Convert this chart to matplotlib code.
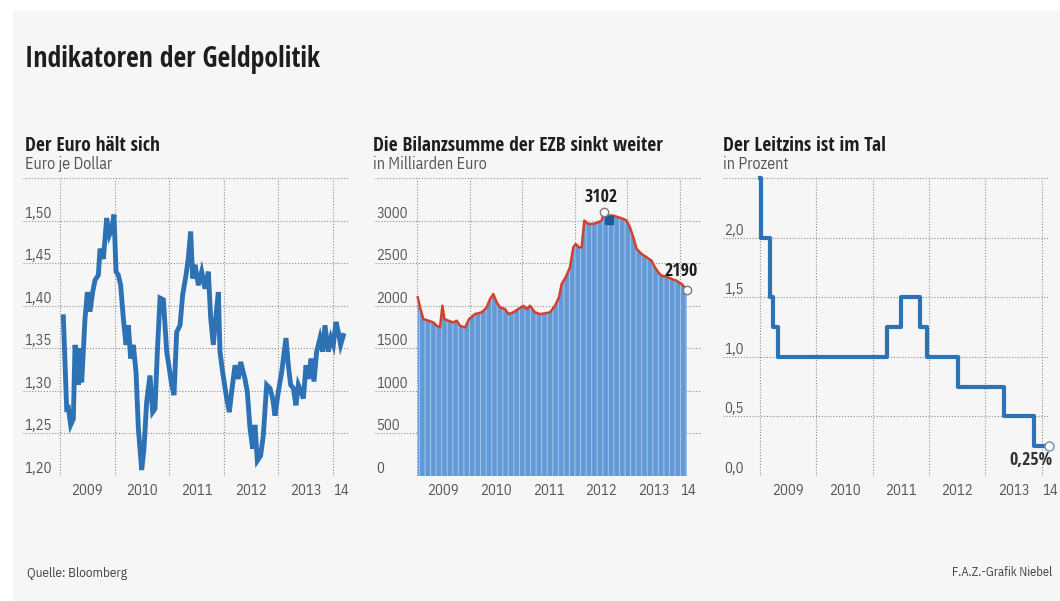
import numpy as np
import matplotlib
matplotlib.use("Agg")
import matplotlib.pyplot as plt
from matplotlib.patches import Rectangle
from matplotlib.transforms import offset_copy

plt.rcParams["font.family"] = ["IBM Plex Sans Condensed", "DejaVu Sans"]
plt.rcParams["hatch.linewidth"] = 0.8
TITLE_FONT = ["Open Sans Condensed", "IBM Plex Sans Condensed", "DejaVu Sans"]

COLORS = {
    "line": "#2e72b6",
    "fill": "#6399d6",
    "stripe": "#9fc1ea",
    "red": "#d4402c",
    "dark_blue": "#1d5a9c",
    "text": "#1e1e1e",
    "sub": "#555555",
    "grid": "#8f8f8f",
    "panel": "#f6f6f6",
}

W, H = 1060, 601

# Euro je Dollar (wöchentlich)
euro_dates = [
    2009.061, 2009.122, 2009.153, 2009.195, 2009.244, 2009.275, 2009.336, 2009.366,
    2009.397, 2009.458, 2009.501, 2009.549, 2009.598, 2009.641, 2009.702, 2009.733,
    2009.794, 2009.855, 2009.904, 2009.946, 2009.989, 2010.026, 2010.068, 2010.111,
    2010.160, 2010.209, 2010.252, 2010.294, 2010.343, 2010.392, 2010.435, 2010.496,
    2010.538, 2010.587, 2010.648, 2010.697, 2010.740, 2010.783, 2010.832, 2010.893,
    2010.954, 2011.002, 2011.045, 2011.088, 2011.137, 2011.198, 2011.247, 2011.308,
    2011.350, 2011.393, 2011.430, 2011.473, 2011.534, 2011.595, 2011.656, 2011.717,
    2011.760, 2011.808, 2011.857, 2011.900, 2011.930, 2011.979, 2012.053, 2012.101,
    2012.144, 2012.205, 2012.266, 2012.309, 2012.388, 2012.431, 2012.480, 2012.529,
    2012.571, 2012.614, 2012.675, 2012.724, 2012.785, 2012.846, 2012.895, 2012.938,
    2012.999, 2013.060, 2013.139, 2013.182, 2013.225, 2013.274, 2013.322, 2013.365,
    2013.414, 2013.457, 2013.506, 2013.548, 2013.597, 2013.652, 2013.701, 2013.762,
    2013.811, 2013.853, 2013.914, 2013.963, 2014.006, 2014.055, 2014.098, 2014.140,
    2014.189,
]
euro_values = [
    1.387, 1.279, 1.280, 1.260, 1.267, 1.354, 1.307, 1.350,
    1.310, 1.385, 1.416, 1.393, 1.416, 1.430, 1.436, 1.467,
    1.455, 1.503, 1.483, 1.490, 1.507, 1.440, 1.436, 1.424,
    1.385, 1.354, 1.377, 1.338, 1.354, 1.322, 1.256, 1.207,
    1.232, 1.287, 1.318, 1.275, 1.279, 1.346, 1.409, 1.407,
    1.346, 1.326, 1.307, 1.295, 1.369, 1.377, 1.413, 1.436,
    1.456, 1.487, 1.432, 1.448, 1.424, 1.440, 1.420, 1.440,
    1.385, 1.354, 1.389, 1.416, 1.346, 1.322, 1.291, 1.275,
    1.299, 1.330, 1.314, 1.334, 1.314, 1.299, 1.256, 1.232,
    1.260, 1.218, 1.224, 1.248, 1.307, 1.303, 1.291, 1.271,
    1.299, 1.322, 1.362, 1.330, 1.307, 1.303, 1.283, 1.307,
    1.299, 1.291, 1.330, 1.314, 1.338, 1.311, 1.346, 1.362,
    1.346, 1.377, 1.346, 1.362, 1.354, 1.381, 1.369, 1.354,
    1.365,
]

# Bilanzsumme der EZB in Mrd. Euro
bilanz_dates = [
    2009.013, 2009.057, 2009.120, 2009.215, 2009.311, 2009.374, 2009.437, 2009.482,
    2009.520, 2009.596, 2009.691, 2009.754, 2009.817, 2009.913, 2009.989, 2010.103,
    2010.229, 2010.324, 2010.388, 2010.451, 2010.515, 2010.578, 2010.673, 2010.736,
    2010.831, 2010.926, 2011.022, 2011.085, 2011.148, 2011.243, 2011.338, 2011.433,
    2011.529, 2011.624, 2011.700, 2011.750, 2011.826, 2011.909, 2011.972, 2012.016,
    2012.080, 2012.131, 2012.181, 2012.257, 2012.352, 2012.447, 2012.511, 2012.555,
    2012.637, 2012.732, 2012.828, 2012.923, 2012.986, 2013.049, 2013.113, 2013.176,
    2013.271, 2013.366, 2013.461, 2013.525, 2013.588, 2013.651, 2013.746, 2013.842,
    2013.937, 2014.032, 2014.127,
]
bilanz_values = [
    2098, 1980, 1843, 1824, 1804, 1765, 1745, 2000,
    1843, 1824, 1804, 1824, 1765, 1745, 1843, 1902,
    1922, 1980, 2078, 2137, 2039, 1980, 1961, 1902,
    1922, 1961, 2000, 1961, 2000, 1922, 1902, 1910,
    1922, 2000, 2098, 2255, 2333, 2451, 2686, 2725,
    2686, 2686, 3000, 2961, 2961, 2980, 3000, 3102,
    3059, 3059, 3039, 3020, 3000, 2922, 2804, 2667,
    2608, 2569, 2529, 2451, 2392, 2353, 2341, 2314,
    2294, 2255, 2190,
]

# Leitzins in Prozent (Stufen)
zins_dates = [2009.0, 2009.02, 2009.18, 2009.24, 2009.32, 2011.25, 2011.51,
              2011.85, 2011.96, 2012.51, 2013.34, 2013.87, 2014.14]
zins_values = [2.5, 2.0, 1.5, 1.25, 1.0, 1.25, 1.5, 1.25, 1.0, 0.75, 0.5, 0.25, 0.25]

year_grid = [2009, 2010, 2011, 2012, 2013, 2014]
year_label_pos = [2009.5, 2010.5, 2011.5, 2012.5, 2013.5, 2014.15]
year_labels = ["2009", "2010", "2011", "2012", "2013", "14"]

euro_ticks = [1.20, 1.25, 1.30, 1.35, 1.40, 1.45, 1.50, 1.55]
euro_tick_labels = ["1,20", "1,25", "1,30", "1,35", "1,40", "1,45", "1,50", ""]
bilanz_ticks = [0, 500, 1000, 1500, 2000, 2500, 3000, 3500]
bilanz_tick_labels = ["0", "500", "1000", "1500", "2000", "2500", "3000", ""]
zins_ticks = [0.0, 0.5, 1.0, 1.5, 2.0, 2.5]
zins_tick_labels = ["0,0", "0,5", "1,0", "1,5", "2,0", ""]


def make_axes(fig, left_px, right_px, top_px=178, bottom_px=476):
    return fig.add_axes([left_px / W, 1 - bottom_px / H,
                         (right_px - left_px) / W, (bottom_px - top_px) / H])


def style_axis(ax, xlim, yticks, ylabels):
    ax.set_facecolor("none")
    ax.set_xlim(*xlim)
    ax.set_ylim(yticks[0], yticks[-1])
    for spine in ax.spines.values():
        spine.set_visible(False)

    ax.set_xticks(year_grid)
    ax.set_xticklabels([])
    ax.set_xticks(year_label_pos, year_labels, minor=True)
    ax.tick_params(axis="x", which="both", length=0, pad=5.5,
                   labelsize=10.5, labelcolor=COLORS["sub"])

    ax.set_yticks(yticks, ylabels)
    ax.tick_params(axis="y", length=0, pad=-1, labelsize=10.5, labelcolor=COLORS["sub"])
    for lab in ax.get_yticklabels():
        lab.set_horizontalalignment("left")
        lab.set_verticalalignment("bottom")

    ax.grid(True, which="major", linestyle=(0, (1, 1.6)), color=COLORS["grid"], linewidth=0.8)
    ax.set_axisbelow(True)


def panel_title(fig, x_px, title, subtitle):
    fig.text(x_px / W, 1 - 151 / H, title, fontsize=14, fontweight="bold",
             family=TITLE_FONT, color=COLORS["text"], va="baseline")
    fig.text(x_px / W, 1 - 169 / H, subtitle, fontsize=11.5, color=COLORS["sub"], va="baseline")


fig = plt.figure(figsize=(W / 100, H / 100), dpi=100, facecolor="white")
fig.patches.append(Rectangle((13 / W, 0), 1, 1 - 11 / H, transform=fig.transFigure,
                             facecolor=COLORS["panel"], edgecolor="none", zorder=-10))

fig.text(25 / W, 1 - 67 / H, "Indikatoren der Geldpolitik", fontsize=20, fontweight="bold",
         family=TITLE_FONT, color=COLORS["text"], va="baseline")

# Panel 1: Euro
ax1 = make_axes(fig, 23, 348)
style_axis(ax1, (2008.322, 2014.275), euro_ticks, euro_tick_labels)
ax1.plot(euro_dates, euro_values, color=COLORS["line"], linewidth=3.5,
         solid_joinstyle="miter", clip_on=False)
panel_title(fig, 25, "Der Euro hält sich", "Euro je Dollar")

# Panel 2: Bilanzsumme
ax2 = make_axes(fig, 375, 702)
style_axis(ax2, (2008.20, 2014.42), bilanz_ticks, bilanz_tick_labels)
ax2.fill_between(bilanz_dates, 0, bilanz_values, facecolor=COLORS["fill"],
                 edgecolor=COLORS["stripe"], hatch="|||", linewidth=0, zorder=2)
ax2.plot(bilanz_dates, bilanz_values, color=COLORS["red"], linewidth=1.8, zorder=3)

peak = int(np.argmax(bilanz_values))
px, py = bilanz_dates[peak], bilanz_values[peak]
ax2.plot([px], [py], marker="s", markersize=6, color=COLORS["dark_blue"], zorder=4,
         transform=offset_copy(ax2.transData, fig=fig, x=5, y=-8, units="dots"))
ax2.plot([px], [py], marker="o", markersize=6, markerfacecolor="white",
         markeredgecolor="#7a7a7a", markeredgewidth=1.0, zorder=5)
ax2.annotate(f"{py:d}", (px, py), xytext=(-2, 4), textcoords="offset points",
             ha="center", va="bottom", fontsize=13, fontweight="bold",
             family=TITLE_FONT, color=COLORS["text"])

ex, ey = bilanz_dates[-1], bilanz_values[-1]
ax2.plot([ex], [ey], marker="o", markersize=6, markerfacecolor="white",
         markeredgecolor="#7a7a7a", markeredgewidth=1.0, zorder=5, clip_on=False)
ax2.annotate(f"{ey:d}", (ex, ey), xytext=(-4, 7), textcoords="offset points",
             ha="center", va="bottom", fontsize=13, fontweight="bold",
             family=TITLE_FONT, color=COLORS["text"])
panel_title(fig, 373, "Die Bilanzsumme der EZB sinkt weiter", "in Milliarden Euro")

# Panel 3: Leitzins
ax3 = make_axes(fig, 723, 1050)
style_axis(ax3, (2008.344, 2014.15), zins_ticks, zins_tick_labels)
ax3.step(zins_dates, zins_values, where="post", color=COLORS["line"], linewidth=3.0,
         clip_on=False, zorder=3)
zx, zy = zins_dates[-1], zins_values[-1]
ax3.plot([zx], [zy], marker="o", markersize=6.5, markerfacecolor="white",
         markeredgecolor="#6f8fb0", markeredgewidth=1.0, zorder=5, clip_on=False)
ax3.annotate("0,25%", (zx, zy), xytext=(2, -10), textcoords="offset points",
             ha="right", va="center", fontsize=13, fontweight="bold",
             family=TITLE_FONT, color="#333333")
panel_title(fig, 723, "Der Leitzins ist im Tal", "in Prozent")

fig.text(27 / W, 1 - 573 / H, "Quelle: Bloomberg", fontsize=9.5, color="#444444", va="center")
fig.text(1052 / W, 1 - 573 / H, "F.A.Z.-Grafik Niebel", fontsize=9, color="#444444",
         va="center", ha="right")

fig.savefig("out.png", dpi=100, facecolor=fig.get_facecolor())
